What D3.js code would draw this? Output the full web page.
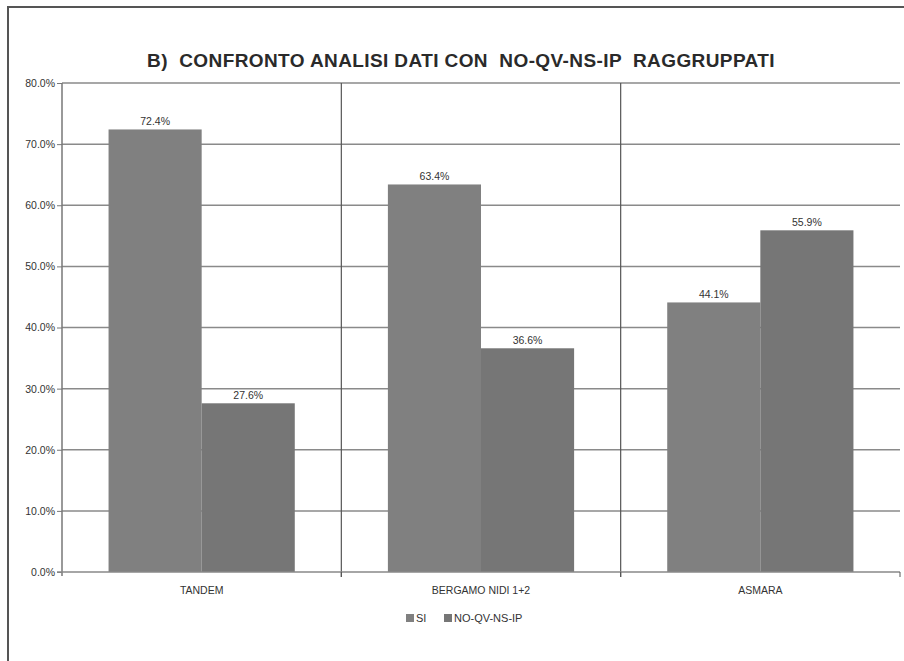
<!DOCTYPE html>
<html><head><meta charset="utf-8">
<script src="https://cdn.jsdelivr.net/npm/d3@7"></script>
<style>body{margin:0;background:#fff;} svg{display:block;}</style>
</head><body>
<svg id="c" width="904" height="661"></svg>
<script>
const categories = ["TANDEM", "BERGAMO NIDI 1+2", "ASMARA"];
const seriesNames = ["SI", "NO-QV-NS-IP"];
const siValues = [72.4, 63.4, 44.1];
const noValues = [27.6, 36.6, 55.9];
const yTicks = [0, 10, 20, 30, 40, 50, 60, 70, 80];
const titleText = "B)  CONFRONTO ANALISI DATI CON  NO-QV-NS-IP  RAGGRUPPATI";
const colors = ["#808080", "#767676"];

const svg = d3.select("#c");
const font = "'Liberation Sans', Arial, sans-serif";

// frame
svg.append("path").attr("d", "M8,661 V7 H904").attr("fill", "none").attr("stroke", "#555").attr("stroke-width", 2);

const pL = 62, pR = 900, pT = 83, pB = 572;
const x = d3.scaleBand().domain(categories).range([pL, pR]).paddingInner(0).paddingOuter(0);
const inner = d3.scaleBand().domain(seriesNames).range([0, x.bandwidth()]).paddingInner(0).paddingOuter(0.5);
const y = d3.scaleLinear().domain([0, 80]).range([pB, pT]);

// horizontal grid
svg.append("g").selectAll("line").data(yTicks.filter(d => d > 0)).join("line")
  .attr("x1", pL).attr("x2", pR).attr("y1", d => y(d)).attr("y2", d => y(d))
  .attr("stroke", "#8a8a8a").attr("stroke-width", 1.5);

// vertical category dividers
svg.append("g").selectAll("line").data(categories.slice(1)).join("line")
  .attr("x1", d => x(d)).attr("x2", d => x(d)).attr("y1", pT).attr("y2", pB + 5)
  .attr("stroke", "#555").attr("stroke-width", 1.2);

const data = categories.map((c, i) => ({c, vals: [siValues[i], noValues[i]]}));
const g = svg.append("g").selectAll("g").data(data).join("g").attr("transform", d => `translate(${x(d.c)},0)`);
g.selectAll("rect").data(d => d.vals.map((v, j) => ({v, s: seriesNames[j], j}))).join("rect")
  .attr("x", d => inner(d.s)).attr("width", inner.bandwidth())
  .attr("y", d => y(d.v)).attr("height", d => y(0) - y(d.v))
  .attr("fill", d => colors[d.j]);
g.selectAll("text").data(d => d.vals.map((v, j) => ({v, s: seriesNames[j]}))).join("text")
  .attr("x", d => inner(d.s) + inner.bandwidth() / 2).attr("y", d => y(d.v) - 4)
  .attr("text-anchor", "middle").attr("font-family", font).attr("font-size", 10.5).attr("fill", "#333")
  .text(d => d.v.toFixed(1) + "%");

// y axis
const yAxis = d3.axisLeft(y).tickValues(yTicks).tickSize(5).tickPadding(2).tickFormat(d => d.toFixed(1) + "%");
const ya = svg.append("g").attr("transform", `translate(${pL},0)`).call(yAxis);
ya.select(".domain").attr("stroke", "#777").attr("stroke-width", 1.5).attr("d", `M0,${pT}V${pB + 4}`);
ya.selectAll(".tick line").attr("stroke", "#777");
ya.selectAll("text").attr("font-family", font).attr("font-size", 10.5).attr("fill", "#333");

// x axis
const xa = svg.append("g").attr("transform", `translate(0,${pB})`);
xa.append("line").attr("x1", pL - 5).attr("x2", pR).attr("stroke", "#888").attr("stroke-width", 1.5);
xa.selectAll("line.t").data([...categories.slice(1).map(c => x(c)), pR]).join("line").attr("class", "t")
  .attr("x1", d => d).attr("x2", d => d).attr("y1", 0).attr("y2", 5).attr("stroke", "#555");
xa.selectAll("text").data(categories).join("text")
  .attr("x", d => x(d) + x.bandwidth() / 2).attr("y", 22)
  .attr("text-anchor", "middle").attr("font-family", font).attr("font-size", 10.5).attr("fill", "#333")
  .text(d => d);

// title
svg.append("text").attr("x", 461).attr("y", 67).attr("text-anchor", "middle")
  .attr("font-family", font).attr("font-size", 19).attr("font-weight", "bold").attr("fill", "#2a2a2a")
  .attr("letter-spacing", 0.4)
  .style("white-space", "pre").text(titleText);

// legend
const leg = svg.append("g");
const legX = [406, 444];
seriesNames.forEach((s, i) => {
  leg.append("rect").attr("x", legX[i]).attr("y", 614).attr("width", 8).attr("height", 8).attr("fill", colors[i]);
  leg.append("text").attr("x", legX[i] + 10).attr("y", 622).attr("font-family", font).attr("font-size", 11).attr("fill", "#333").text(s);
});
</script>
</body></html>
